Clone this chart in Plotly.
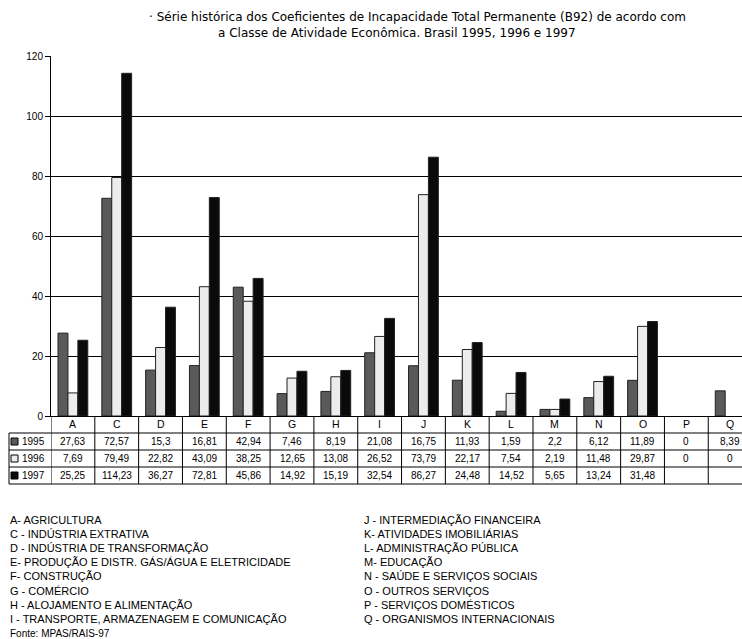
import plotly.graph_objects as go

categories = ["A", "C", "D", "E", "F", "G", "H", "I", "J", "K", "L", "M", "N", "O", "P", "Q"]
years = ["1995", "1996", "1997"]
v1995 = [27.63, 72.57, 15.3, 16.81, 42.94, 7.46, 8.19, 21.08, 16.75, 11.93, 1.59, 2.2, 6.12, 11.89, 0, 8.39]
v1996 = [7.69, 79.49, 22.82, 43.09, 38.25, 12.65, 13.08, 26.52, 73.79, 22.17, 7.54, 2.19, 11.48, 29.87, 0, 0]
v1997 = [25.25, 114.23, 36.27, 72.81, 45.86, 14.92, 15.19, 32.54, 86.27, 24.48, 14.52, 5.65, 13.24, 31.48, None, None]
y_ticks = [0, 20, 40, 60, 80, 100, 120]

title_lines = [
    "· Série histórica dos Coeficientes de Incapacidade Total Permanente (B92) de acordo com",
    "a Classe de Atividade Econômica. Brasil 1995, 1996 e 1997",
]
legend_left = [
    "A- AGRICULTURA",
    "C - INDÚSTRIA EXTRATIVA",
    "D - INDÚSTRIA DE TRANSFORMAÇÃO",
    "E- PRODUÇÃO E DISTR. GÁS/ÁGUA E ELETRICIDADE",
    "F- CONSTRUÇÃO",
    "G - COMÉRCIO",
    "H - ALOJAMENTO E ALIMENTAÇÃO",
    "I - TRANSPORTE, ARMAZENAGEM E COMUNICAÇÃO",
]
legend_right = [
    "J - INTERMEDIAÇÃO FINANCEIRA",
    "K- ATIVIDADES IMOBILIÁRIAS",
    "L- ADMINISTRAÇÃO PÚBLICA",
    "M- EDUCAÇÃO",
    "N - SAÚDE E SERVIÇOS SOCIAIS",
    "O - OUTROS SERVIÇOS",
    "P - SERVIÇOS DOMÉSTICOS",
    "Q - ORGANISMOS INTERNACIONAIS",
]
source_text = "Fonte: MPAS/RAIS-97"

colors = ["#5a5a5a", "#ececec", "#0a0a0a"]
series = [v1995, v1996, v1997]

W, H = 742, 639
L, R, T, B = 51, 742, 56, 416
FONT = "Liberation Sans, Arial, sans-serif"
TFONT = "DejaVu Sans, sans-serif"


def px(x):
    return (x - L) / (R - L)


def py(y):
    return (B - y) / (B - T)


fig = go.Figure()
for name, vals, col in zip(years, series, colors):
    fig.add_trace(go.Bar(
        x=categories, y=vals, name=name,
        marker=dict(color=col, line=dict(color="#222222",
                                         width=[1 if v else 0 for v in vals])),
    ))

shapes = []
annotations = []

# title
annotations.append(dict(text=title_lines[0], xref="paper", yref="paper", x=px(417), y=py(17),
                        xanchor="center", yanchor="middle", showarrow=False,
                        font=dict(size=12, color="#000", family=TFONT)))
annotations.append(dict(text=title_lines[1], xref="paper", yref="paper", x=px(397), y=py(33),
                        xanchor="center", yanchor="middle", showarrow=False,
                        font=dict(size=12, color="#000", family=TFONT)))

# data table
row_top = [416, 433, 450, 467, 484]
line_style = dict(color="#000", width=1)
for k in range(len(categories) + 1):
    shapes.append(dict(type="line", xref="x", yref="paper", x0=k - 0.5, x1=k - 0.5,
                       y0=py(row_top[0]), y1=py(row_top[-1]), line=line_style))
for yy in row_top[1:]:
    shapes.append(dict(type="line", xref="paper", yref="paper", x0=px(9), x1=1.05,
                       y0=py(yy), y1=py(yy), line=line_style))
shapes.append(dict(type="line", xref="paper", yref="paper", x0=px(9), x1=px(9),
                   y0=py(row_top[1]), y1=py(row_top[-1]), line=line_style))

for i, c in enumerate(categories):
    annotations.append(dict(text=c, xref="x", yref="paper", x=c, y=py(424.5),
                            xanchor="center", yanchor="middle", showarrow=False,
                            font=dict(size=10.5, color="#000", family=FONT)))
for r, (name, vals, col) in enumerate(zip(years, series, colors)):
    yc = (row_top[r + 1] + row_top[r + 2]) / 2
    shapes.append(dict(type="rect", xref="paper", yref="paper", x0=px(11), x1=px(18),
                       y0=py(yc - 3.5), y1=py(yc + 3.5), fillcolor=col,
                       line=dict(color="#000", width=1)))
    annotations.append(dict(text=name, xref="paper", yref="paper", x=px(19.5), y=py(yc),
                            xanchor="left", yanchor="middle", showarrow=False,
                            font=dict(size=10, color="#000", family=FONT)))
    for c, v in zip(categories, vals):
        if v is None:
            continue
        annotations.append(dict(text=f"{v:g}".replace(".", ","), xref="x", yref="paper", x=c, y=py(yc),
                                xanchor="center", yanchor="middle", showarrow=False,
                                font=dict(size=10, color="#000", family=FONT)))

# category legend
for j, t in enumerate(legend_left):
    annotations.append(dict(text=t, xref="paper", yref="paper", x=px(8), y=py(519.5 + j * 14.2),
                            xanchor="left", yanchor="middle", showarrow=False,
                            font=dict(size=11, color="#000", family=FONT)))
for j, t in enumerate(legend_right):
    annotations.append(dict(text=t, xref="paper", yref="paper", x=px(362), y=py(519.5 + j * 14.2),
                            xanchor="left", yanchor="middle", showarrow=False,
                            font=dict(size=11, color="#000", family=FONT)))
annotations.append(dict(text=source_text, xref="paper", yref="paper", x=px(8), y=py(633),
                        xanchor="left", yanchor="middle", showarrow=False,
                        font=dict(size=10, color="#000", family=FONT)))

fig.update_layout(
    width=W, height=H,
    margin=dict(l=L, r=W - R, t=T, b=H - B, pad=0),
    paper_bgcolor="white", plot_bgcolor="white",
    barmode="group", bargap=0.32, bargroupgap=0,
    showlegend=False,
    font=dict(family=FONT, size=10, color="#000"),
    xaxis=dict(type="category", range=[-0.5, 15.27], showticklabels=False, ticks="",
               showgrid=False, showline=True, linecolor="#000", linewidth=1, zeroline=False),
    yaxis=dict(range=[0, 120], tickvals=y_ticks, showgrid=True, gridcolor="#000", gridwidth=1,
               showline=True, linecolor="#000", linewidth=1, ticks="outside", ticklen=5,
               tickcolor="#000", zeroline=False, tickfont=dict(size=10, family=FONT)),
    shapes=shapes,
    annotations=annotations,
)

fig.write_html("out.html", config={"displayModeBar": False},
               post_script="document.body.style.margin='0px';document.body.style.overflow='hidden';")
